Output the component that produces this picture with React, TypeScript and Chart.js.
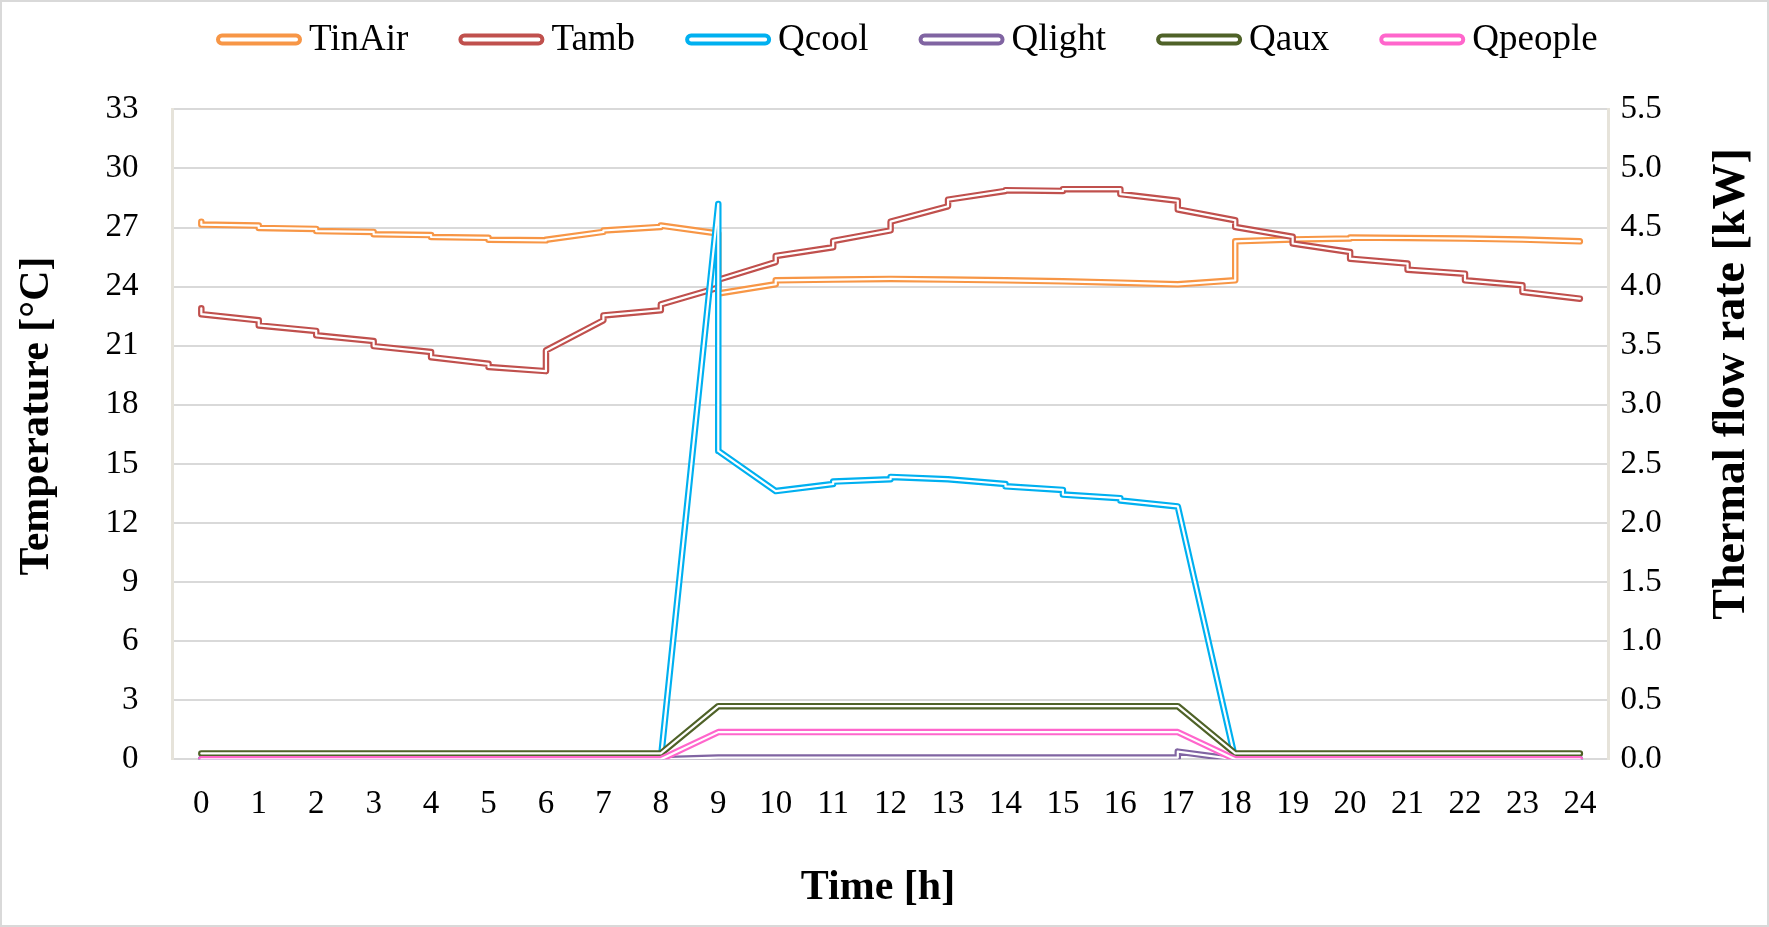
import React, { useEffect, useRef } from 'react';
import { Chart, registerables } from 'chart.js';

Chart.register(...registerables);

const hours = [0, 1, 2, 3, 4, 5, 6, 7, 8, 9, 10, 11, 12, 13, 14, 15, 16, 17, 18, 19, 20, 21, 22, 23, 24];

// value reached at each hour (end of previous interval) and value leaving the hour
const tinAirEnd = [27.3, 27.1, 26.93, 26.78, 26.62, 26.48, 26.35, 26.78, 27.03, 26.7, 24.12, 24.36, 24.39, 24.36, 24.32, 24.27, 24.2, 24.12, 24.32, 26.4, 26.45, 26.47, 26.44, 26.39, 26.3];
const tinAirStart = [27.15, 26.98, 26.82, 26.66, 26.52, 26.38, 26.38, 26.85, 27.1, 23.65, 24.32, 24.36, 24.39, 24.36, 24.32, 24.27, 24.2, 24.12, 26.3, 26.4, 26.49, 26.47, 26.44, 26.39, 26.3];

const tambEnd = [22.9, 22.29, 21.75, 21.24, 20.68, 20.08, 19.71, 22.29, 22.8, 23.95, 25.25, 26.0, 26.86, 28.08, 28.86, 28.86, 28.95, 28.36, 27.37, 26.53, 25.76, 25.17, 24.66, 24.07, 23.39];
const tambStart = [22.6, 22.03, 21.53, 20.98, 20.42, 19.92, 20.76, 22.54, 23.1, 24.35, 25.56, 26.32, 27.3, 28.42, 28.9, 28.95, 28.7, 27.92, 27.03, 26.19, 25.42, 24.86, 24.32, 23.73, 23.39];

const qcoolEnd = [0, 0, 0, 0, 0, 0, 0, 0, 0, 4.7, 2.27, 2.33, 2.37, 2.37, 2.33, 2.28, 2.21, 2.14, 0, 0, 0, 0, 0, 0, 0];
const qcoolStart = [0, 0, 0, 0, 0, 0, 0, 0, 0, 2.61, 2.27, 2.35, 2.39, 2.37, 2.31, 2.24, 2.19, 2.14, 0, 0, 0, 0, 0, 0, 0];

const qlightEnd = [0, 0, 0, 0, 0, 0, 0, 0, 0, 0.015, 0.015, 0.015, 0.015, 0.015, 0.015, 0.015, 0.015, 0.015, 0, 0, 0, 0, 0, 0, 0];
const qlightStart = [0, 0, 0, 0, 0, 0, 0, 0, 0, 0.015, 0.015, 0.015, 0.015, 0.015, 0.015, 0.015, 0.015, 0.065, 0, 0, 0, 0, 0, 0, 0];

const qauxHourly = [0.05, 0.05, 0.05, 0.05, 0.05, 0.05, 0.05, 0.05, 0.05, 0.45, 0.45, 0.45, 0.45, 0.45, 0.45, 0.45, 0.45, 0.45, 0.05, 0.05, 0.05, 0.05, 0.05, 0.05, 0.05];
const qpeopleHourly = [0, 0, 0, 0, 0, 0, 0, 0, 0, 0.23, 0.23, 0.23, 0.23, 0.23, 0.23, 0.23, 0.23, 0.23, 0, 0, 0, 0, 0, 0, 0];

const tempTicks = [0, 3, 6, 9, 12, 15, 18, 21, 24, 27, 30, 33];
const flowTicks = [0, 0.5, 1, 1.5, 2, 2.5, 3, 3.5, 4, 4.5, 5, 5.5];

const FONT = '"Liberation Serif", "Times New Roman", serif';

const stepPoints = (end: number[], start: number[] = end) =>
  hours.flatMap((h, i) =>
    end[i] === start[i] ? [{ x: h, y: end[i] }] : [{ x: h, y: end[i] }, { x: h, y: start[i] }]
  );

const series = [
  { label: 'TinAir', color: '#F79646', axis: 'y', points: stepPoints(tinAirEnd, tinAirStart) },
  { label: 'Tamb', color: '#C0504D', axis: 'y', points: stepPoints(tambEnd, tambStart) },
  { label: 'Qcool', color: '#00B0F0', axis: 'y1', points: stepPoints(qcoolEnd, qcoolStart) },
  { label: 'Qlight', color: '#8064A2', axis: 'y1', points: stepPoints(qlightEnd, qlightStart) },
  { label: 'Qaux', color: '#4F6228', axis: 'y1', points: stepPoints(qauxHourly) },
  { label: 'Qpeople', color: '#FF66CC', axis: 'y1', points: stepPoints(qpeopleHourly) },
];

// background, frame, legend and axis titles
const decorPlugin = {
  id: 'decor',
  beforeDraw(chart: Chart) {
    const { ctx, width, height } = chart;
    ctx.save();
    ctx.fillStyle = '#FFFFFF';
    ctx.fillRect(0, 0, width, height);
    ctx.strokeStyle = '#D9D9D9';
    ctx.lineWidth = 2;
    ctx.strokeRect(1, 1, width - 2, height - 2);
    ctx.restore();
  },
  afterDraw(chart: Chart) {
    const { ctx } = chart;
    ctx.save();
    // legend
    ctx.font = `37px ${FONT}`;
    ctx.textBaseline = 'middle';
    ctx.textAlign = 'left';
    let x = 216;
    const cy = 39.5;
    series.forEach((s) => {
      ctx.beginPath();
      ctx.roundRect(x + 2, cy - 4, 82, 8, 4);
      ctx.fillStyle = '#FFFFFF';
      ctx.fill();
      ctx.lineWidth = 4;
      ctx.strokeStyle = s.color;
      ctx.stroke();
      ctx.fillStyle = '#000000';
      ctx.fillText(s.label, x + 93, cy + 1);
      x += 93 + ctx.measureText(s.label).width + 50;
    });

    // axis titles
    ctx.font = `bold 42px ${FONT}`;
    ctx.textAlign = 'center';
    ctx.fillText('Time [h]', 878, 888);

    ctx.save();
    ctx.translate(37, 416);
    ctx.rotate(-Math.PI / 2);
    ctx.fillText('Temperature [°C]', 0, 0);
    ctx.restore();

    ctx.font = `bold 46px ${FONT}`;
    ctx.save();
    ctx.translate(1732, 384);
    ctx.rotate(-Math.PI / 2);
    ctx.fillText('Thermal flow rate [kW]', 0, 0);
    ctx.restore();

    ctx.restore();
  },
};

const App: React.FC = () => {
  const canvasRef = useRef<HTMLCanvasElement | null>(null);
  const chartRef = useRef<Chart | null>(null);

  useEffect(() => {
    if (!canvasRef.current) return;
    if (chartRef.current) chartRef.current.destroy();

    const datasets: any[] = [];
    series.forEach((s, i) => {
      const rank = series.length - 1 - i;
      const common = {
        data: s.points,
        yAxisID: s.axis,
        pointRadius: 0,
        pointHoverRadius: 0,
        tension: 0,
        fill: false,
        borderCapStyle: 'round',
        borderJoinStyle: 'round',
      };
      datasets.push({ ...common, label: s.label, borderColor: s.color, borderWidth: 6.5, order: 2 * rank + 1 });
      datasets.push({ ...common, label: s.label + ' core', borderColor: '#FFFFFF', borderWidth: 2.2, order: 2 * rank });
    });

    chartRef.current = new Chart(canvasRef.current, {
      type: 'line',
      data: { datasets },
      options: {
        responsive: true,
        maintainAspectRatio: false,
        animation: false,
        layout: { padding: { top: 109.4, left: 0, right: 0, bottom: 0 } },
        plugins: {
          legend: { display: false },
          tooltip: { enabled: false },
        },
        scales: {
          x: {
            type: 'linear',
            min: -0.5,
            max: 24.5,
            afterBuildTicks: (scale: any) => {
              scale.ticks = hours.map((h) => ({ value: h }));
            },
            afterFit: (scale: any) => {
              scale.height = 167.7;
            },
            grid: { display: false, drawTicks: false },
            border: { display: true, color: '#D9D9D9', width: 2 },
            ticks: {
              autoSkip: false,
              maxRotation: 0,
              padding: 25,
              color: '#000000',
              font: { family: FONT, size: 33 },
              callback: (v: any) => String(v),
            },
          },
          y: {
            type: 'linear',
            position: 'left',
            min: 0,
            max: 33,
            afterBuildTicks: (scale: any) => {
              scale.ticks = tempTicks.map((t) => ({ value: t }));
            },
            afterFit: (scale: any) => {
              scale.width = 172.6;
            },
            grid: { color: '#D9D9D9', lineWidth: 2, drawTicks: false },
            border: { display: true, color: '#E6E3DA', width: 3 },
            ticks: {
              padding: 34,
              color: '#000000',
              font: { family: FONT, size: 33 },
              callback: (v: any) => String(v),
            },
          },
          y1: {
            type: 'linear',
            position: 'right',
            min: 0,
            max: 5.5,
            afterBuildTicks: (scale: any) => {
              scale.ticks = flowTicks.map((t) => ({ value: t }));
            },
            afterFit: (scale: any) => {
              scale.width = 160.4;
            },
            grid: { drawOnChartArea: false, drawTicks: false },
            border: { display: true, color: '#E6E3DA', width: 3 },
            ticks: {
              padding: 12,
              color: '#000000',
              font: { family: FONT, size: 33 },
              callback: (v: any) => Number(v).toFixed(1),
            },
          },
        },
      },
      plugins: [decorPlugin],
    } as any);

    return () => {
      if (chartRef.current) {
        chartRef.current.destroy();
        chartRef.current = null;
      }
    };
  }, []);

  return (
    <div style={{ position: 'fixed', left: 0, top: 0, width: 1769, height: 927, background: '#FFFFFF' }}>
      <canvas ref={canvasRef}></canvas>
    </div>
  );
};

export default App;
